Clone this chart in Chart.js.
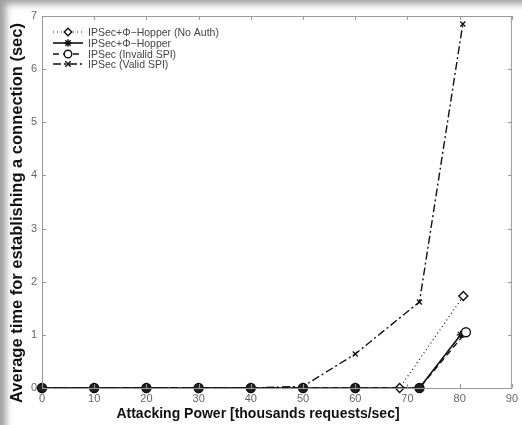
<!DOCTYPE html>
<html>
<head>
<meta charset="utf-8">
<script src="https://cdn.jsdelivr.net/npm/chart.js@4"></script>
<style>
  html, body { margin: 0; padding: 0; background: #fff; }
  #wrap { position: relative; width: 522px; height: 425px; }
  #shade { position: absolute; left: 0; top: 0; width: 522px; height: 425px; pointer-events: none;
           box-shadow: inset 9px 7px 7px -3px rgba(0,0,0,0.38); }
</style>
</head>
<body>
<div id="wrap">
  <canvas id="chart" width="522" height="425"></canvas>
  <div id="shade"></div>
</div>
<script>
// attacking power (thousands req/sec) and connection time (sec), per series
const seriesNames = ['IPSec+\u03A6\u2212Hopper (No Auth)', 'IPSec+\u03A6\u2212Hopper', 'IPSec (Invalid SPI)', 'IPSec (Valid SPI)'];
const xNoAuth  = [0, 10, 20, 30, 40, 50, 60, 68.5, 80.7];
const yNoAuth  = [0, 0, 0, 0, 0, 0, 0, 0, 1.73];
const xHopper  = [0, 10, 20, 30, 40, 50, 60, 72.3, 80.2];
const yHopper  = [0, 0, 0, 0, 0, 0, 0, 0, 1.0];
const xInvalid = [0, 10, 20, 30, 40, 50, 60, 72.3, 81.2];
const yInvalid = [0, 0, 0, 0, 0, 0, 0, 0, 1.05];
const xValid   = [0, 10, 20, 30, 40, 50, 60, 72.3, 80.6];
const yValid   = [0, 0, 0, 0, 0, 0.03, 0.64, 1.62, 6.85];

const xTicks = [0, 10, 20, 30, 40, 50, 60, 70, 80, 90];
const yTicks = [0, 1, 2, 3, 4, 5, 6, 7];

function pts(xs, ys) {
    return xs.map((x, i) => ({ x: x, y: ys[i] }));
}

const styles = [
    { dash: [1, 3], point: 'rectRot', radius: 4.5, width: 1.2, order: 2 },
    { dash: [], point: 'star', radius: 4, width: 1.6, order: 1 },
    { dash: [6, 4], point: 'circle', radius: 4.5, width: 1.4, order: 0 },
    { dash: [8, 3, 2, 3], point: 'crossRot', radius: 3.5, width: 1.4, order: 3 }
];
const seriesData = [pts(xNoAuth, yNoAuth), pts(xHopper, yHopper), pts(xInvalid, yInvalid), pts(xValid, yValid)];

const datasets = seriesData.map((d, i) => ({
    label: seriesNames[i],
    data: d,
    order: styles[i].order,
    borderColor: '#111',
    borderWidth: styles[i].width,
    borderDash: styles[i].dash,
    pointStyle: styles[i].point,
    pointRadius: styles[i].radius,
    pointBorderColor: '#111',
    pointBorderWidth: 1.4,
    pointBackgroundColor: i === 2 ? (c => (c.raw && c.raw.y === 0 ? '#222' : '#fff')) : '#fff',
    tension: 0,
    clip: false
}));

// box, inward ticks, axis titles, legend
const decor = {
    id: 'decor',
    afterDraw(chart) {
        const ctx = chart.ctx;
        const a = chart.chartArea;
        const xs = chart.scales.x, ys = chart.scales.y;
        ctx.save();
        ctx.strokeStyle = '#999';
        ctx.lineWidth = 1;
        ctx.setLineDash([]);
        ctx.strokeRect(a.left + 0.5, a.top + 0.5, a.right - a.left - 1, a.bottom - a.top);
        ctx.beginPath();
        xTicks.forEach(v => {
            const px = Math.round(xs.getPixelForValue(v)) + 0.5;
            ctx.moveTo(px, a.bottom); ctx.lineTo(px, a.bottom - 4);
            ctx.moveTo(px, a.top); ctx.lineTo(px, a.top + 4);
        });
        yTicks.forEach(v => {
            const py = Math.round(ys.getPixelForValue(v)) + 0.5;
            ctx.moveTo(a.left, py); ctx.lineTo(a.left + 4, py);
            ctx.moveTo(a.right, py); ctx.lineTo(a.right - 4, py);
        });
        ctx.stroke();

        // axis titles
        ctx.fillStyle = '#111';
        ctx.textAlign = 'center';
        ctx.textBaseline = 'middle';
        ctx.font = 'bold 14px "Liberation Sans", Arial, sans-serif';
        ctx.fillText('Attacking Power [thousands requests/sec]', 258, 414);
        ctx.save();
        ctx.translate(17, 213);
        ctx.rotate(-Math.PI / 2);
        ctx.font = 'bold 16.5px "Liberation Sans", Arial, sans-serif';
        ctx.fillText('Average time for establishing a connection (sec)', 0, 0);
        ctx.restore();

        // legend
        ctx.font = '10.5px "Liberation Sans", Arial, sans-serif';
        ctx.textAlign = 'left';
        const rows = [32, 43, 54, 64];
        chart.data.datasets.forEach((ds, i) => {
            const y = rows[i];
            ctx.strokeStyle = '#111';
            ctx.lineWidth = ds.borderWidth;
            ctx.setLineDash(ds.borderDash);
            ctx.beginPath();
            ctx.moveTo(53, y); ctx.lineTo(83, y);
            ctx.stroke();
            ctx.setLineDash([]);
            ctx.lineWidth = 1.4;
            ctx.fillStyle = '#fff';
            Chart.helpers.drawPoint(ctx, { pointStyle: ds.pointStyle, radius: 3.8, borderWidth: 1.4 }, 68, y);
            ctx.fillStyle = '#444';
            ctx.fillText(ds.label, 88, y + 1);
        });
        ctx.restore();
    }
};

new Chart(document.getElementById('chart').getContext('2d'), {
    type: 'line',
    data: { datasets: datasets },
    options: {
        responsive: false,
        animation: false,
        layout: { padding: { top: 16, right: 6, left: 0, bottom: 0 } },
        plugins: { legend: { display: false }, tooltip: { enabled: false } },
        scales: {
            x: {
                type: 'linear', min: 0, max: 90,
                afterBuildTicks: s => { s.ticks = xTicks.map(v => ({ value: v })); },
                afterFit: s => { s.height = 37; },
                grid: { display: false, drawTicks: false },
                border: { display: false },
                ticks: { color: '#666', padding: 4, font: { size: 11, family: '"Liberation Sans", Arial, sans-serif' } }
            },
            y: {
                type: 'linear', min: 0, max: 7,
                afterBuildTicks: s => { s.ticks = yTicks.map(v => ({ value: v })); },
                afterFit: s => { s.width = 42; },
                grid: { display: false, drawTicks: false },
                border: { display: false },
                ticks: { color: '#666', padding: 5, font: { size: 11, family: '"Liberation Sans", Arial, sans-serif' } }
            }
        }
    },
    plugins: [decor]
});
</script>
</body>
</html>
